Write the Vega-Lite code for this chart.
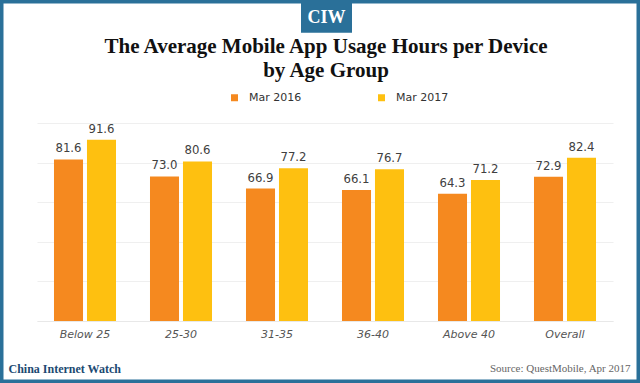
{
  "$schema": "https://vega.github.io/schema/vega-lite/v6.json",
  "width": 640,
  "height": 383,
  "autosize": {"type": "none"},
  "padding": 0,
  "background": "white",
  "title": {
    "text": ["The Average Mobile App Usage Hours per Device", "by Age Group"],
    "font": "Liberation Serif",
    "fontSize": 21,
    "fontWeight": "bold",
    "color": "#111111",
    "lineHeight": 24,
    "anchor": "middle",
    "frame": "group",
    "dx": 6,
    "baseline": "alphabetic",
    "offset": -98
  },
  "config": {
    "view": {"stroke": "#2a7099", "strokeWidth": 7}
  },
  "data": {
    "values": [
      {"group": "Below 25", "year": "Mar 2016", "value": 81.6},
      {"group": "Below 25", "year": "Mar 2017", "value": 91.6},
      {"group": "25-30", "year": "Mar 2016", "value": 73.0},
      {"group": "25-30", "year": "Mar 2017", "value": 80.6},
      {"group": "31-35", "year": "Mar 2016", "value": 66.9},
      {"group": "31-35", "year": "Mar 2017", "value": 77.2},
      {"group": "36-40", "year": "Mar 2016", "value": 66.1},
      {"group": "36-40", "year": "Mar 2017", "value": 76.7},
      {"group": "Above 40", "year": "Mar 2016", "value": 64.3},
      {"group": "Above 40", "year": "Mar 2017", "value": 71.2},
      {"group": "Overall", "year": "Mar 2016", "value": 72.9},
      {"group": "Overall", "year": "Mar 2017", "value": 82.4}
    ]
  },
  "layer": [
    {
      "mark": {"type": "bar"},
      "encoding": {
        "x": {
          "field": "group",
          "type": "nominal",
          "sort": null,
          "scale": {"range": [37, 613], "paddingInner": 0.354, "paddingOuter": 0.177},
          "axis": {
            "title": "Source: QuestMobile, Apr 2017",
            "orient": "bottom",
            "offset": -62,
            "labelAngle": 0,
            "labelFont": "DejaVu Sans",
            "labelFontStyle": "italic",
            "labelFontSize": 11,
            "labelColor": "#555555",
            "labelPadding": 7,
            "ticks": false,
            "domainColor": "#e8e8e8",
            "domainWidth": 1,
            "titleFont": "Liberation Serif",
            "titleFontWeight": "normal",
            "titleFontSize": 11,
            "titleColor": "#666666",
            "titleX": 630,
            "titleY": 47,
            "titleAlign": "right",
            "titleAnchor": null,
            "titleBaseline": "middle"
          }
        },
        "xOffset": {
          "field": "year",
          "type": "nominal",
          "scale": {"paddingInner": 0.12, "paddingOuter": 0}
        },
        "y": {
          "field": "value",
          "type": "quantitative",
          "scale": {"domain": [0, 100], "range": [321, 123]},
          "axis": {
            "title": "China Internet Watch",
            "values": [0, 20, 40, 60, 80, 100],
            "grid": true,
            "gridColor": "#efefef",
            "gridWidth": 1,
            "domain": false,
            "ticks": false,
            "labels": false,
            "titleAngle": 0,
            "titleX": 8,
            "titleY": 368,
            "titleAlign": "left",
            "titleBaseline": "middle",
            "titleFont": "Liberation Serif",
            "titleFontWeight": "bold",
            "titleFontSize": 12,
            "titleColor": "#1c4a72"
          }
        },
        "color": {
          "field": "year",
          "type": "nominal",
          "scale": {"range": ["#F5891F", "#FEC010"]},
          "legend": {
            "title": null,
            "orient": "none",
            "direction": "horizontal",
            "legendX": 229,
            "legendY": 92,
            "padding": 0,
            "symbolType": "square",
            "symbolSize": 49,
            "symbolStrokeWidth": 0,
            "labelFont": "DejaVu Sans",
            "labelFontSize": 11,
            "labelColor": "#333333",
            "labelOffset": 9,
            "columnPadding": 74
          }
        }
      }
    },
    {
      "mark": {
        "type": "text",
        "baseline": "alphabetic",
        "dy": -7,
        "font": "'DejaVu Sans Condensed', 'Liberation Sans Narrow', Roboto, sans-serif",
        "fontSize": 13,
        "color": "#404040"
      },
      "encoding": {
        "x": {"field": "group", "type": "nominal", "sort": null},
        "xOffset": {"field": "year", "type": "nominal"},
        "y": {"field": "value", "type": "quantitative"},
        "text": {"field": "value", "type": "quantitative", "format": ".1f"}
      }
    },
    {
      "data": {"values": [{"logo": "CIW"}]},
      "mark": {
        "type": "point",
        "shape": "M-0.745,-0.65H1.255V0.65H-0.745Z",
        "size": 2601,
        "filled": true,
        "color": "#2a7099",
        "opacity": 1,
        "strokeWidth": 0
      },
      "encoding": {
        "y": {"datum": 154, "type": "quantitative"}
      }
    },
    {
      "data": {"values": [{"logo": "CIW"}]},
      "mark": {
        "type": "text",
        "baseline": "middle",
        "dx": 6.5,
        "dy": 2,
        "font": "Liberation Serif",
        "fontWeight": "bold",
        "fontSize": 18,
        "color": "white"
      },
      "encoding": {
        "y": {"datum": 154, "type": "quantitative"},
        "text": {"field": "logo", "type": "nominal"}
      }
    }
  ]
}
